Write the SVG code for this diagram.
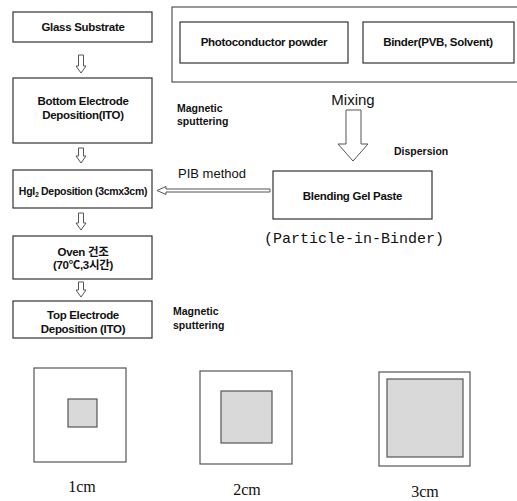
<svg xmlns="http://www.w3.org/2000/svg" width="517" height="501" viewBox="0 0 517 501">
<style>
.box{fill:#fff;stroke:#333;stroke-width:1.2}
.t{font-family:"Liberation Sans","Noto Sans CJK KR",sans-serif;font-weight:bold;font-size:11.5px;fill:#111;text-anchor:middle;letter-spacing:-0.3px}
.lbl{font-family:"Liberation Sans","Noto Sans CJK KR",sans-serif;font-weight:bold;font-size:10.5px;fill:#111}
.r{font-family:"Liberation Sans",sans-serif;fill:#111}
.sm{fill:#fff;stroke:#555;stroke-width:1}
.sq{fill:#fff;stroke:#555;stroke-width:1.2}
.in{fill:#d9d9d9;stroke:#555;stroke-width:1.2}
.cm{font-family:"Liberation Serif",serif;font-size:16px;fill:#111;text-anchor:middle}
</style>
<rect width="517" height="501" fill="#fff"/>
<g id="materials">
<rect x="172" y="7" width="350" height="75" fill="#fff" stroke="#333" stroke-width="1"/>
</g>
<g id="photoconductor">
<rect class="box" x="180" y="22" width="168" height="41"/>
<text class="t" x="264" y="46">Photoconductor powder</text>
</g>
<g id="binder">
<rect class="box" x="363" y="22" width="151" height="41"/>
<text class="t" x="438" y="46">Binder(PVB, Solvent)</text>
</g>
<g id="glass">
<rect class="box" x="13" y="12" width="139" height="30"/>
<text class="t" x="83" y="31">Glass Substrate</text>
</g>
<g id="bottom">
<rect class="box" x="13" y="78" width="139" height="65"/>
<text class="t" x="83" y="105">Bottom Electrode</text>
<text class="t" x="83" y="119">Deposition(ITO)</text>
</g>
<g id="hgi2">
<rect class="box" x="13" y="170" width="139" height="38"/>
<text class="t" x="83" y="195" style="font-size:10.5px">HgI<tspan font-size="7" dy="2">2</tspan><tspan dy="-2"> Deposition (3cmx3cm)</tspan></text>
</g>
<g id="oven">
<rect class="box" x="13" y="236" width="139" height="43"/>
<text class="t" x="83" y="256">Oven 건조</text>
<text class="t" x="83" y="269">(70℃,3시간)</text>
</g>
<g id="top">
<rect class="box" x="13" y="301" width="139" height="37"/>
<text class="t" x="83" y="319">Top Electrode</text>
<text class="t" x="83" y="333">Deposition (ITO)</text>
</g>
<g id="blending">
<rect class="box" x="273" y="171" width="159" height="48"/>
<text class="t" x="352.5" y="200">Blending Gel Paste</text>
<text x="354" y="243" font-family="'Liberation Mono',monospace" font-size="15" fill="#111" text-anchor="middle">(Particle-in-Binder)</text>
</g>
<g id="labels">
<text class="lbl" x="177" y="112">Magnetic</text>
<text class="lbl" x="177" y="125">sputtering</text>
<text class="lbl" x="173" y="315">Magnetic</text>
<text class="lbl" x="173" y="329">sputtering</text>
<text class="lbl" x="394" y="155">Dispersion</text>
<text class="r" x="353" y="105" font-size="15" text-anchor="middle">Mixing</text>
<text class="r" x="212" y="178" font-size="13" text-anchor="middle">PIB method</text>
</g>
<g id="connectors">
<path class="sm" d="M78.5,55 H83.5 V66 H86 L81,73 L76,66 H78.5 Z"/>
<path class="sm" d="M78.5,148 H83.5 V156 H86 L81,163 L76,156 H78.5 Z"/>
<path class="sm" d="M78.5,213 H83.5 V223 H86 L81,230 L76,223 H78.5 Z"/>
<path class="sm" d="M78.5,282 H83.5 V290 H86 L81,297 L76,290 H78.5 Z"/>
<path class="sm" d="M346,110 H361 V144 H368 L353,161 L338,144 H346 Z"/>
<path class="sm" d="M270,189 H166 V186.5 L157,190.5 L166,194.5 V192 H270 Z"/>
</g>
<g id="squares">
<rect class="sq" x="34" y="368" width="92" height="94"/>
<rect class="in" x="68" y="399" width="29" height="28"/>
<rect class="sq" x="200" y="371" width="92" height="93"/>
<rect class="in" x="221" y="391" width="51" height="52"/>
<rect class="sq" x="379" y="372" width="91" height="94"/>
<rect class="in" x="387" y="379" width="76" height="78"/>
<text class="cm" x="82" y="492">1cm</text>
<text class="cm" x="247" y="495">2cm</text>
<text class="cm" x="425" y="497">3cm</text>
</g>
</svg>
